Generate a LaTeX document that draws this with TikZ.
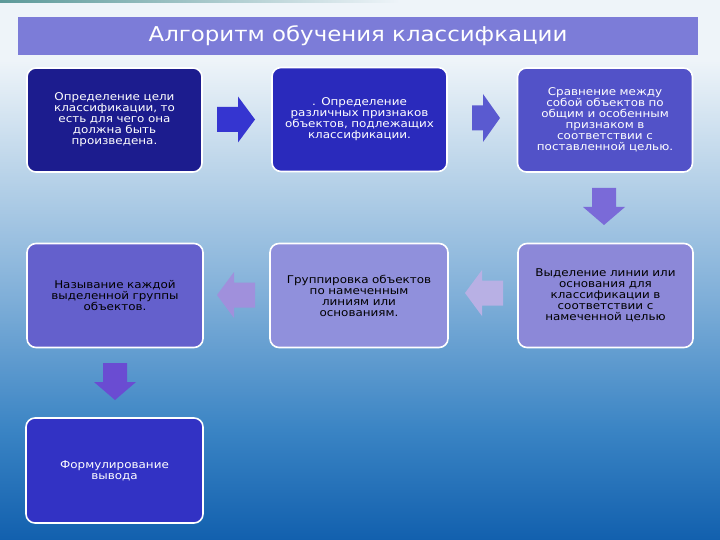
\documentclass[tikz,border=0pt]{standalone}
\usepackage{fontspec}
\setmainfont{DejaVu Sans}[FakeStretch=1.12]
\definecolor{bgA}{HTML}{EEF4F9}
\definecolor{bgB}{HTML}{C4DAEC}
\definecolor{bgC}{HTML}{7EAED8}
\definecolor{bgD}{HTML}{3A84C4}
\definecolor{bgE}{HTML}{1260AE}
\definecolor{titlec}{HTML}{7C7CD8}
\definecolor{cA}{HTML}{1C1C8E}
\definecolor{cB}{HTML}{2A2ABC}
\definecolor{cC}{HTML}{5252C8}
\definecolor{cD}{HTML}{6460CC}
\definecolor{cE}{HTML}{9090DC}
\definecolor{cF}{HTML}{8C88D8}
\definecolor{cG}{HTML}{3232C4}
\definecolor{aA}{HTML}{3535D0}
\definecolor{aB}{HTML}{5A5AD0}
\definecolor{aC}{HTML}{7A6AD8}
\definecolor{aD}{HTML}{B8B0E4}
\definecolor{aE}{HTML}{A090DC}
\definecolor{aF}{HTML}{6A4CD2}
\tikzset{
  box/.style={rectangle, rounded corners=9bp, draw=white, line width=1.6bp,
    minimum width=175bp, minimum height=104bp, text width=170bp, align=center,
    font=\fontsize{10.7}{11}\selectfont, inner sep=0pt},
  rarr/.pic={\fill (0,-12.5) -- (21,-12.5) -- (21,-23) -- (38,0) -- (21,23) -- (21,12.5) -- (0,12.5) -- cycle;},
  sarr/.pic={\fill (0,-12.5) -- (11,-12.5) -- (11,-24) -- (28,0) -- (11,24) -- (11,12.5) -- (0,12.5) -- cycle;},
  darr/.pic={\fill (0,-12) -- (19,-12) -- (19,-21) -- (37,0) -- (19,21) -- (19,12) -- (0,12) -- cycle;}
}
\begin{document}
\begin{tikzpicture}[x=1bp,y=-1bp]
\useasboundingbox (0,0) rectangle (720,540);
\begin{scope}[y=1bp, shift={(0,-540bp)}]
  \fill[bgA] (0,479.5) rectangle (720,540);
  \shade[top color=bgA, bottom color=bgB] (0,389.5) rectangle (720,480);
  \shade[top color=bgB, bottom color=bgC] (0,239.5) rectangle (720,390);
  \shade[top color=bgC, bottom color=bgD] (0,109.5) rectangle (720,240);
  \shade[top color=bgD, bottom color=bgE] (0,0) rectangle (720,110);
  \shade[left color=teal!60!gray!80!white, right color=bgA] (0,537.5) rectangle (400,540);
\end{scope}
% title
\node[fill=titlec, minimum width=680bp, minimum height=38bp, inner sep=0pt,
  text=white, font=\fontsize{20.5}{23}\selectfont] (title) at (358,36) {Алгоритм обучения классифкации};
% boxes
\node[box, fill=cA, text=white] (b1) at (114.5,120) {Определение цели\\классификации, то\\есть для чего она\\должна быть\\произведена.};
\node[box, fill=cB, text=white] (b2) at (359.5,119.5) {. Определение\\различных признаков\\объектов, подлежащих\\классификации.\\[4bp]};
\node[box, fill=cC, text=white] (b3) at (605,120) {Сравнение между\\собой объектов по\\общим и особенным\\признаком в\\соответствии с\\поставленной целью.};
\node[box, fill=cF, text=black] (b6) at (605.5,295.5) {Выделение линии или\\основания для\\классификации в\\соответствии с\\намеченной целью\\[3bp]};
\node[box, fill=cE, text=black, minimum width=178bp] (b5) at (359,295.5) {Группировка объектов\\по намеченным\\линиям или\\основаниям.\\[6bp]};
\node[box, fill=cD, text=black, minimum width=176bp] (b4) at (115,295.5) {Называние каждой\\выделенной группы\\объектов.\\[6bp]};
\node[box, fill=cG, text=white, minimum width=177bp, minimum height=105bp] (b7) at (114.5,470.5) {Формулирование\\вывода\\[4bp]};
% arrows
\path pic[fill=aA] at (217,119.5) {rarr};
\path pic[fill=aB] at (472,118) {sarr};
\path pic[fill=aC, rotate=-90] at (604,188) {darr};
\path pic[fill=aD, rotate=180] at (503,293) {rarr};
\path pic[fill=aE, rotate=180] at (255,295) {rarr};
\path pic[fill=aF, rotate=-90] at (115,363) {darr};
\end{tikzpicture}
\end{document}
